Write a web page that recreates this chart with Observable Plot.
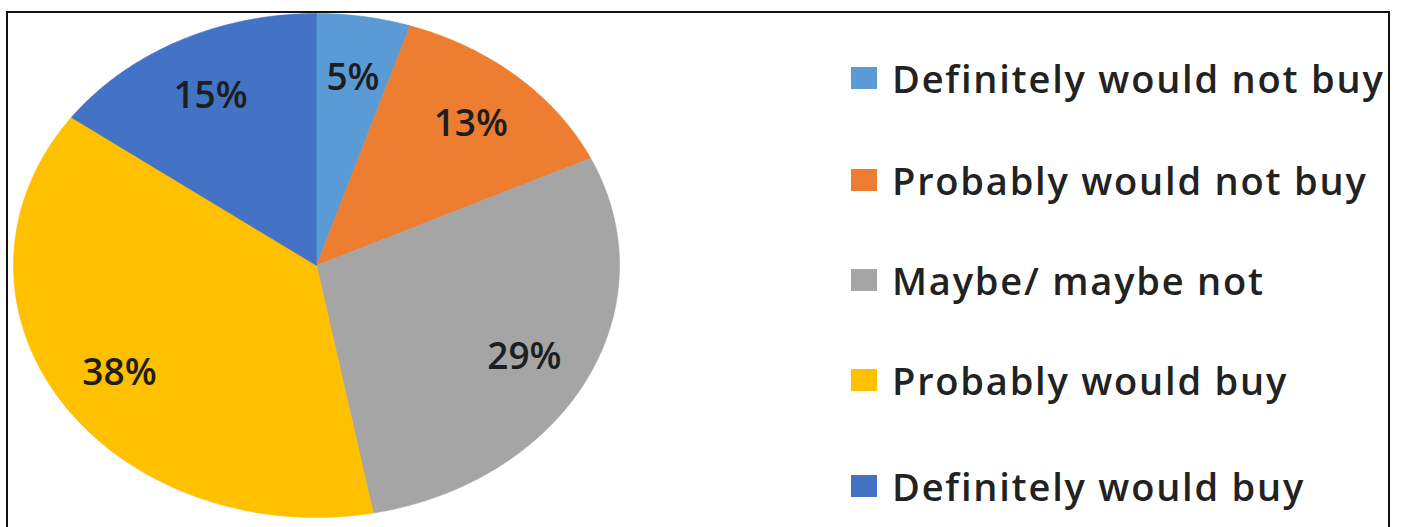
<!DOCTYPE html>
<html>
<head>
<meta charset="utf-8">
<script src="https://cdn.jsdelivr.net/npm/d3@7"></script>
<script src="https://cdn.jsdelivr.net/npm/@observablehq/plot@0.6"></script>
<style>
  html, body { margin: 0; padding: 0; width: 1402px; height: 527px; overflow: hidden; background: #fff; }
  #frame { position: absolute; left: 6px; top: 11px; width: 1384px; height: 600px; border: 2px solid #111; box-sizing: border-box; }
  #pie { position: absolute; left: 0; top: 0; }
  #legend { position: absolute; left: 851px; top: 0; font-family: "Open Sans", sans-serif; font-size: 38px; font-weight: 600; letter-spacing: 1.8px; color: #222; }
  .item { position: absolute; left: 0; white-space: nowrap; display: flex; align-items: center; height: 40px; }
  .sw { width: 26px; height: 22px; margin-right: 15px; }
</style>
</head>
<body>
<div id="frame"></div>
<div id="pie"></div>
<div id="legend"></div>
<script>
const categories = ["Definitely would not buy", "Probably would not buy", "Maybe/ maybe not", "Probably would buy", "Definitely would buy"];
const values = [5, 13, 29, 38, 15];
const labels = ["5%", "13%", "29%", "38%", "15%"];
const colors = ["#5B9BD5", "#ED7D31", "#A5A5A5", "#FFC000", "#4472C4"];

const slices = categories.map((c, i) => ({category: c, value: values[i], label: labels[i]}));
const arcs = d3.pie().sort(null).value(d => d.value)(slices);

// polygon points in unit-circle space (angle 0 at top, clockwise)
const pts = [];
for (const a of arcs) {
  const n = Math.max(2, Math.ceil((a.endAngle - a.startAngle) / 0.01));
  pts.push({category: a.data.category, u: 0, v: 0});
  for (let k = 0; k <= n; k++) {
    const t = a.startAngle + (a.endAngle - a.startAngle) * k / n;
    pts.push({category: a.data.category, u: Math.sin(t), v: Math.cos(t)});
  }
  pts.push({category: a.data.category, u: 0, v: 0});
}
const labelPts = arcs.map(a => {
  const m = (a.startAngle + a.endAngle) / 2;
  return {label: a.data.label, u: 0.77 * Math.sin(m), v: 0.77 * Math.cos(m)};
});

const chart = Plot.plot({
  width: 640,
  height: 527,
  margin: 0,
  style: {background: "transparent", overflow: "visible"},
  x: {domain: [-1, 1], range: [13, 619], axis: null},
  y: {domain: [-1, 1], range: [517, 13], axis: null},
  color: {domain: categories, range: colors},
  marks: [
    Plot.line(pts, {x: "u", y: "v", z: "category", fill: "category", stroke: "category", strokeWidth: 0.6, curve: "linear"}),
    Plot.text(labelPts, {x: "u", y: "v", dy: 4, text: "label", fontSize: 37, fontWeight: 600, fill: "#1e1e1e", fontFamily: "Open Sans, sans-serif", style: {letterSpacing: "1.3px"}})
  ]
});
document.getElementById("pie").appendChild(chart);

const rowY = [78, 180, 280, 380, 486];
const leg = d3.select("#legend");
categories.forEach((c, i) => {
  const it = leg.append("div").attr("class", "item").style("top", (rowY[i] - 20) + "px");
  it.append("div").attr("class", "sw").style("background", colors[i]);
  it.append("span").text(c);
});
</script>
</body>
</html>
